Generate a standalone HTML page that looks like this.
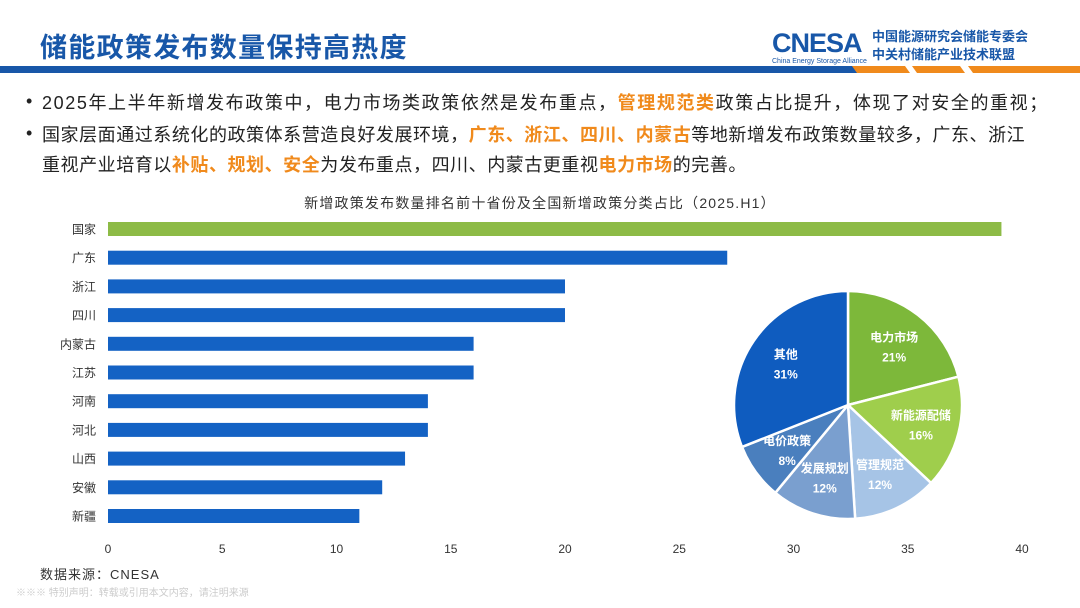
<!DOCTYPE html>
<html><head><meta charset="utf-8">
<style>
body{margin:0;width:1080px;height:608px;overflow:hidden;background:#fff;font-family:"Liberation Sans","Noto Sans CJK SC",sans-serif;position:relative}
.abs{position:absolute;white-space:nowrap}
.title{left:40px;top:26px;font-size:27px;font-weight:bold;color:#1857a8;letter-spacing:1.3px}
.b{font-size:18px;color:#222;left:42px;letter-spacing:1.6px}
.dot{position:absolute;left:-16px;top:2px;letter-spacing:0}
.o{color:#f08a1c;font-weight:bold}
</style></head><body>
<div class="abs title">储能政策发布数量保持高热度</div>
<div class="abs" style="left:772px;top:28px">
 <span style="font-size:27px;font-weight:bold;color:#1857a8;letter-spacing:-1px">CNESA</span>
 <div class="abs" style="left:0;top:30px;font-size:7px;color:#1857a8">China Energy Storage Alliance</div>
 <div class="abs" style="left:100px;top:0;font-size:13px;font-weight:bold;color:#1857a8;line-height:18px">中国能源研究会储能专委会<br>中关村储能产业技术联盟</div>
</div>
<svg class="abs" style="left:0;top:65px" width="1080" height="10">
 <rect x="0" y="1" width="880" height="7" fill="#1857a8"/>
 <polygon points="852,1 905,1 910,8 857,8" fill="#f08a1c"/>
 <polygon points="912,1 960,1 965,8 917,8" fill="#f08a1c"/>
 <polygon points="968,1 1080,1 1080,8 973,8" fill="#f08a1c"/>
</svg>
<div class="abs b" style="top:89px"><span class="dot">•</span>2025年上半年新增发布政策中，电力市场类政策依然是发布重点，<span class="o">管理规范类</span>政策占比提升，体现了对安全的重视；</div>
<div class="abs b" style="top:121px;letter-spacing:0.55px"><span class="dot">•</span>国家层面通过系统化的政策体系营造良好发展环境，<span class="o">广东、浙江、四川、内蒙古</span>等地新增发布政策数量较多，广东、浙江</div>
<div class="abs b" style="top:151px;letter-spacing:0.55px">重视产业培育以<span class="o">补贴、规划、安全</span>为发布重点，四川、内蒙古更重视<span class="o">电力市场</span>的完善。</div>
<div class="abs" style="left:0;width:1080px;text-align:center;top:193px;font-size:14px;color:#333;letter-spacing:1.2px">新增政策发布数量排名前十省份及全国新增政策分类占比（2025.H1）</div>
<svg id="chart" class="abs" style="left:0;top:0" width="1080" height="608"></svg>
<div class="abs" style="left:40px;top:564px;font-size:13px;color:#333;letter-spacing:1px">数据来源：CNESA</div>
<div class="abs" style="left:16px;top:584px;font-size:10px;color:#ccc">※※※ 特别声明：转载或引用本文内容，请注明来源</div>
<script>
const categories=["国家","广东","浙江","四川","内蒙古","江苏","河南","河北","山西","安徽","新疆"];
const values=[39.1,27.1,20,20,16,16,14,14,13,12,11];
const ticks=[0,5,10,15,20,25,30,35,40];
const pieLabels=["电力市场","新能源配储","管理规范","发展规划","电价政策","其他"];
const pieValues=[21,16,12,12,8,31];
const pieColors=["#7db83a","#9fce4c","#a6c4e6","#7a9fcf","#4a7fbe","#0f5cbf"];
const svg=document.getElementById('chart');const NS="http://www.w3.org/2000/svg";
function mk(t,a,txt){const e=document.createElementNS(NS,t);for(const k in a)e.setAttribute(k,a[k]);if(txt!=null)e.textContent=txt;svg.appendChild(e);return e;}
const x=v=>108+v*(1022-108)/40;
const y=i=>229+i*(516-229)/(categories.length-1);
categories.forEach((c,i)=>{
 const r=mk('rect',{x:x(0),y:y(i)-7,width:x(values[i])-x(0),height:14,fill:i===0?'#8dbb46':'#1462c4'});
 
 
 const t=mk('text',{x:96,y:y(i)+4.5,'text-anchor':'end','font-size':12,fill:'#333'},c);
 
 
});
ticks.forEach(v=>{
 const t=mk('text',{x:x(v),y:553,'text-anchor':'middle','font-size':12,fill:'#333'},v);
 
 
});
const cx=848,cy=405,R=114;const tot=pieValues.reduce((a,b)=>a+b,0);let a0=-Math.PI/2;
pieValues.forEach((v,i)=>{
 const a1=a0+v/tot*2*Math.PI;const lg=(a1-a0)>Math.PI?1:0;
 const d=`M${cx},${cy}L${cx+R*Math.cos(a0)},${cy+R*Math.sin(a0)}A${R},${R} 0 ${lg} 1 ${cx+R*Math.cos(a1)},${cy+R*Math.sin(a1)}Z`;
 const p=mk('path',{d,fill:pieColors[i],stroke:'#fff','stroke-width':2.5});
 
 
 const am=(a0+a1)/2,lr=R*0.66;const lx=cx+lr*Math.cos(am),ly=cy+lr*Math.sin(am);
 const t1=mk('text',{x:lx,y:ly-4,'text-anchor':'middle','font-size':12,'font-weight':'bold',fill:'#fff'},pieLabels[i]);
 
 
 const t2=mk('text',{x:lx,y:ly+16,'text-anchor':'middle','font-size':12,'font-weight':'bold',fill:'#fff'},v+'%');
 
 
 a0=a1;
});
</script>
</body></html>
